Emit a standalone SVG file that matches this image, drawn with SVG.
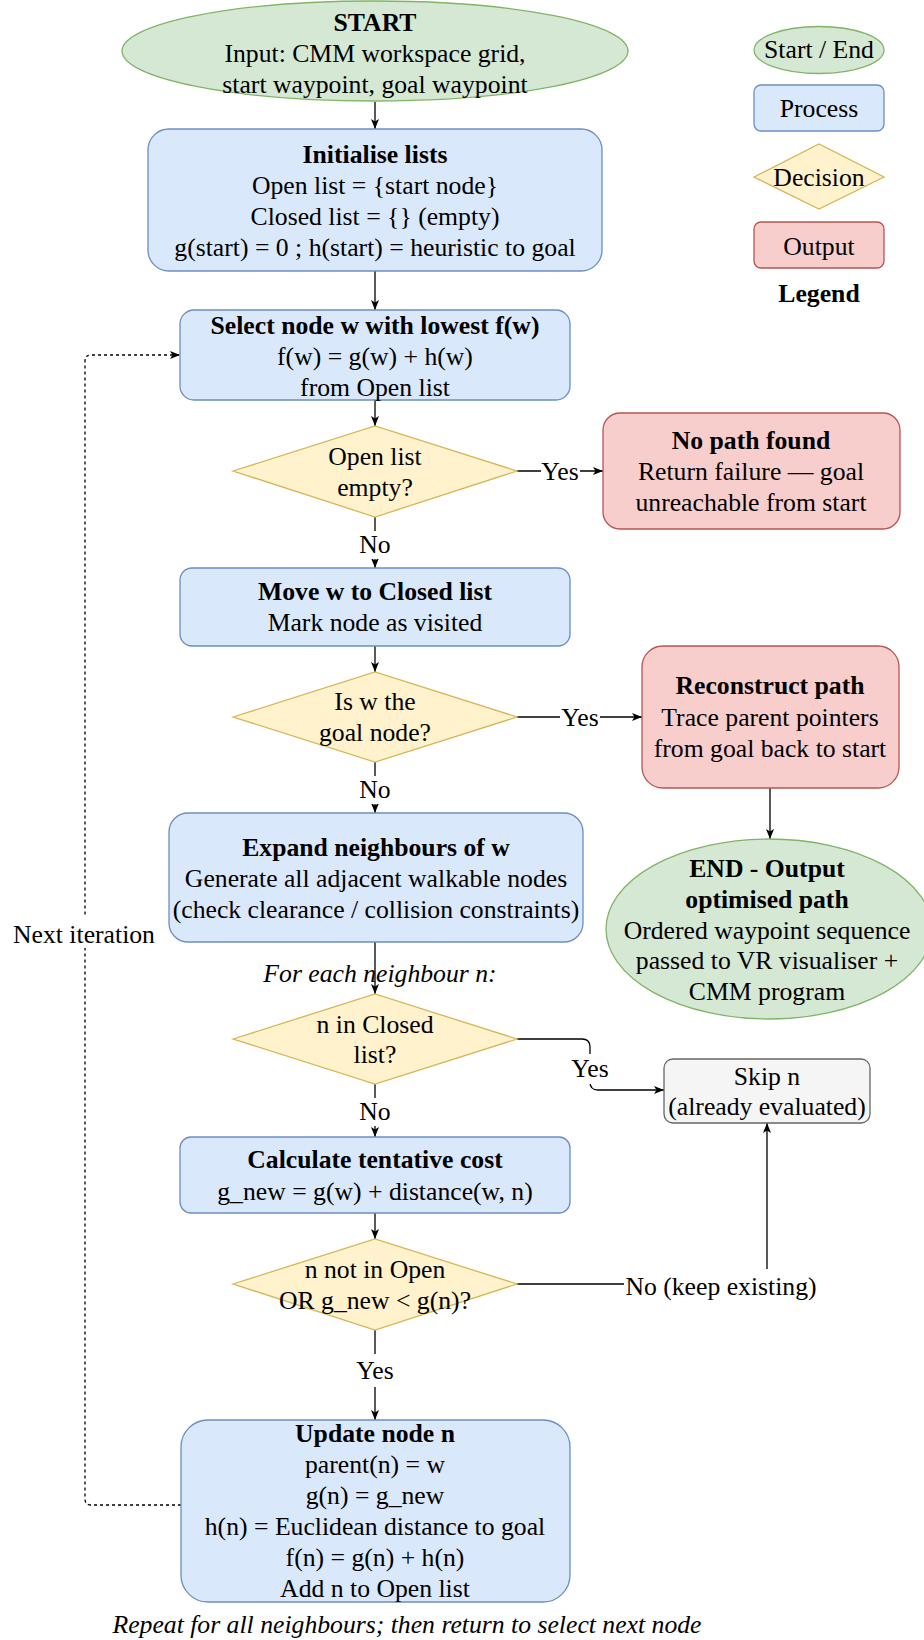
<svg xmlns="http://www.w3.org/2000/svg" width="924" height="1640" viewBox="0 0 924 1640">
  <defs>
    <style>
      text { font-family: "Liberation Serif", "Times New Roman", serif; font-size: 25.7px; fill: #000; text-anchor: middle; }
      .b { font-weight: bold; }
      .i { font-style: italic; }
      .term { fill: #d5e8d4; stroke: #82b366; stroke-width: 1.3; }
      .proc { fill: #dae8fc; stroke: #6c8ebf; stroke-width: 1.3; }
      .dec { fill: #fff2cc; stroke: #d6b656; stroke-width: 1.3; }
      .out { fill: #f8cecc; stroke: #b85450; stroke-width: 1.3; }
      .skip { fill: #f5f5f5; stroke: #666666; stroke-width: 1.3; }
      .edge { fill: none; stroke: #000; stroke-width: 1.3; }
      .dash { fill: none; stroke: #000; stroke-width: 1.3; stroke-dasharray: 3 3; }
      .lbl { fill: #fff; stroke: none; }
    </style>
    <marker id="arrow" viewBox="0 0 10 8" refX="10" refY="4" markerWidth="10" markerHeight="8" markerUnits="userSpaceOnUse" orient="auto">
      <path d="M0,0 L10,4 L0,8 L2.5,4 Z" fill="#000"/>
    </marker>
  </defs>

  <rect width="924" height="1640" fill="#fff"/>

  <!-- connectors -->
  <g id="connectors">
    <path class="edge" d="M375,102 V129" marker-end="url(#arrow)"/>
    <path class="edge" d="M375,271 V310" marker-end="url(#arrow)"/>
    <path class="edge" d="M375,400 V426" marker-end="url(#arrow)"/>
    <path class="edge" d="M517,471 H603" marker-end="url(#arrow)"/>
    <path class="edge" d="M375,517 V568" marker-end="url(#arrow)"/>
    <path class="edge" d="M375,646 V672" marker-end="url(#arrow)"/>
    <path class="edge" d="M517,717 H642" marker-end="url(#arrow)"/>
    <path class="edge" d="M770,788 V839" marker-end="url(#arrow)"/>
    <path class="edge" d="M375,762 V813" marker-end="url(#arrow)"/>
    <path class="edge" d="M375,942 V994" marker-end="url(#arrow)"/>
    <path class="edge" d="M517,1039 H582 Q590,1039 590,1047 V1082 Q590,1090 598,1090 H664" marker-end="url(#arrow)"/>
    <path class="edge" d="M375,1084 V1137" marker-end="url(#arrow)"/>
    <path class="edge" d="M375,1213 V1239" marker-end="url(#arrow)"/>
    <path class="edge" d="M517,1284 H767 V1123" marker-end="url(#arrow)"/>
    <path class="edge" d="M375,1330 V1420" marker-end="url(#arrow)"/>
    <path class="dash" d="M181,1505 H91 Q85,1505 85,1499 V361 Q85,355 91,355 H180" marker-end="url(#arrow)"/>

    <!-- edge labels -->
    <rect class="lbl" x="541" y="459" width="39" height="26"/>
    <text x="560" y="480">Yes</text>
    <rect class="lbl" x="359" y="531" width="32" height="28"/>
    <text x="375" y="553">No</text>
    <rect class="lbl" x="560" y="705" width="40" height="26"/>
    <text x="580" y="726">Yes</text>
    <rect class="lbl" x="359" y="776" width="32" height="28"/>
    <text x="375" y="798">No</text>
    <rect class="lbl" x="570" y="1054" width="40" height="30"/>
    <text x="590" y="1077">Yes</text>
    <rect class="lbl" x="359" y="1098" width="32" height="28"/>
    <text x="375" y="1120">No</text>
    <rect class="lbl" x="624" y="1269" width="194" height="34"/>
    <text x="721" y="1295">No (keep existing)</text>
    <rect class="lbl" x="355" y="1354" width="40" height="33"/>
    <text x="375" y="1379">Yes</text>
    <rect class="lbl" x="12" y="917" width="144" height="31"/>
    <text x="84" y="943">Next iteration</text>
    <text class="i" x="380" y="982">For each neighbour n:</text>
  </g>

  <g id="start">
    <ellipse class="term" cx="375" cy="51" rx="253" ry="50"/>
    <text class="b" x="375" y="31">START</text>
    <text x="375" y="62">Input: CMM workspace grid,</text>
    <text x="375" y="93">start waypoint, goal waypoint</text>
  </g>

  <g id="init-lists">
    <rect class="proc" x="148" y="129" width="454" height="142" rx="21"/>
    <text class="b" x="375" y="163">Initialise lists</text>
    <text x="375" y="194">Open list = {start node}</text>
    <text x="375" y="225">Closed list = {} (empty)</text>
    <text x="375" y="256">g(start) = 0 ; h(start) = heuristic to goal</text>
  </g>

  <g id="select-node">
    <rect class="proc" x="180" y="310" width="390" height="90" rx="14"/>
    <text class="b" x="375" y="334">Select node w with lowest f(w)</text>
    <text x="375" y="365">f(w) = g(w) + h(w)</text>
    <text x="375" y="396">from Open list</text>
  </g>

  <g id="open-empty">
    <polygon class="dec" points="233,471 375,426 517,471 375,517"/>
    <text x="375" y="465">Open list</text>
    <text x="375" y="496">empty?</text>
  </g>

  <g id="no-path">
    <rect class="out" x="603" y="413" width="297" height="116" rx="17"/>
    <text class="b" x="751" y="449">No path found</text>
    <text x="751" y="480">Return failure — goal</text>
    <text x="751" y="511">unreachable from start</text>
  </g>

  <g id="move-closed">
    <rect class="proc" x="180" y="568" width="390" height="78" rx="12"/>
    <text class="b" x="375" y="600">Move w to Closed list</text>
    <text x="375" y="631">Mark node as visited</text>
  </g>

  <g id="is-goal">
    <polygon class="dec" points="233,717 375,672 517,717 375,762"/>
    <text x="375" y="710">Is w the</text>
    <text x="375" y="741">goal node?</text>
  </g>

  <g id="reconstruct">
    <rect class="out" x="642" y="646" width="257" height="142" rx="21"/>
    <text class="b" x="770" y="694">Reconstruct path</text>
    <text x="770" y="726">Trace parent pointers</text>
    <text x="770" y="757">from goal back to start</text>
  </g>

  <g id="end">
    <ellipse class="term" cx="769" cy="929" rx="163" ry="90"/>
    <text class="b" x="767" y="877">END - Output</text>
    <text class="b" x="767" y="908">optimised path</text>
    <text x="767" y="939">Ordered waypoint sequence</text>
    <text x="767" y="969">passed to VR visualiser +</text>
    <text x="767" y="1000">CMM program</text>
  </g>

  <g id="expand">
    <rect class="proc" x="169" y="813" width="414" height="129" rx="19"/>
    <text class="b" x="376" y="856">Expand neighbours of w</text>
    <text x="376" y="887">Generate all adjacent walkable nodes</text>
    <text x="376" y="918">(check clearance / collision constraints)</text>
  </g>

  <g id="in-closed">
    <polygon class="dec" points="233,1039 375,994 517,1039 375,1084"/>
    <text x="375" y="1033">n in Closed</text>
    <text x="375" y="1063">list?</text>
  </g>

  <g id="skip">
    <rect class="skip" x="664" y="1059" width="206" height="64" rx="9"/>
    <text x="767" y="1085">Skip n</text>
    <text x="767" y="1115">(already evaluated)</text>
  </g>

  <g id="tentative-cost">
    <rect class="proc" x="180" y="1137" width="390" height="76" rx="11"/>
    <text class="b" x="375" y="1168">Calculate tentative cost</text>
    <text x="375" y="1200">g_new = g(w) + distance(w, n)</text>
  </g>

  <g id="better-path">
    <polygon class="dec" points="233,1284 375,1239 517,1284 375,1330"/>
    <text x="375" y="1278">n not in Open</text>
    <text x="375" y="1309">OR g_new &lt; g(n)?</text>
  </g>

  <g id="update-node">
    <rect class="proc" x="181" y="1420" width="389" height="182" rx="27"/>
    <text class="b" x="375" y="1442">Update node n</text>
    <text x="375" y="1473">parent(n) = w</text>
    <text x="375" y="1504">g(n) = g_new</text>
    <text x="375" y="1535">h(n) = Euclidean distance to goal</text>
    <text x="375" y="1566">f(n) = g(n) + h(n)</text>
    <text x="375" y="1597">Add n to Open list</text>
  </g>

  <g id="footer-note">
    <text class="i" x="407" y="1633">Repeat for all neighbours; then return to select next node</text>
  </g>

  <g id="legend">
    <ellipse class="term" cx="819" cy="50" rx="65" ry="23.5"/>
    <text x="819" y="58">Start / End</text>
    <rect class="proc" x="754" y="85" width="130" height="46" rx="7"/>
    <text x="819" y="117">Process</text>
    <polygon class="dec" points="754,177 819,144 884,177 819,209"/>
    <text x="819" y="186">Decision</text>
    <rect class="out" x="754" y="222" width="130" height="46" rx="7"/>
    <text x="819" y="255">Output</text>
    <text class="b" x="819" y="302">Legend</text>
  </g>
</svg>
